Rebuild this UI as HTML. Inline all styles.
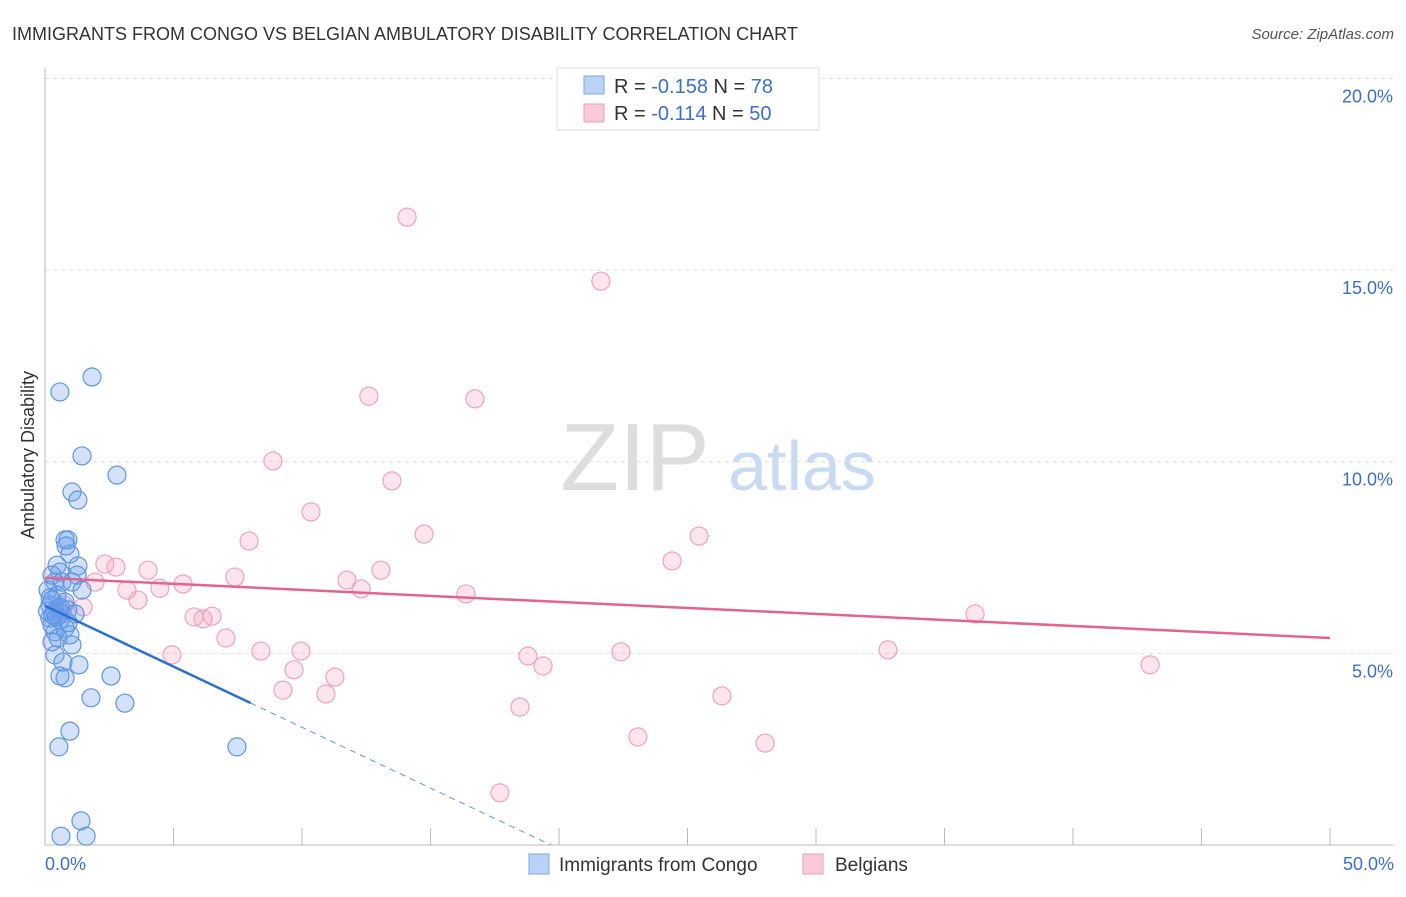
<!DOCTYPE html>
<html><head><meta charset="utf-8"><style>
body{margin:0;background:#fff;font-family:"Liberation Sans",sans-serif}
svg text{font-family:"Liberation Sans",sans-serif}
</style></head><body>
<svg width="1406" height="892" xmlns="http://www.w3.org/2000/svg">
<text x="12" y="40" font-size="18" fill="#333">IMMIGRANTS FROM CONGO VS BELGIAN AMBULATORY DISABILITY CORRELATION CHART</text>
<text x="1394" y="39" font-size="15" fill="#555" font-style="italic" text-anchor="end">Source: ZipAtlas.com</text>
<g>
<text x="635" y="490" font-size="96" font-family="Liberation Serif" fill="#ddd" text-anchor="middle">ZIP</text>
<text x="802" y="490" font-size="70" fill="#c9daf3" text-anchor="middle">atlas</text>
</g>
<g id="grid"></g>
<g id="axes"></g>
<g id="marks"></g>
<text transform="translate(34,455) rotate(-90)" font-size="18" fill="#333" text-anchor="middle">Ambulatory Disability</text>
<g>
<rect x="557" y="68" width="262" height="62" fill="#fff" stroke="#ddd"/>
<rect x="584" y="76" width="20" height="18" fill="#b9d2f5" stroke="#7aa6e6"/>
<rect x="584" y="104" width="20" height="18" fill="#fbcad8" stroke="#ee9fb8"/>
<text x="614" y="93" font-size="20" fill="#333">R = <tspan fill="#3a6fd0">-0.158</tspan>   N = <tspan fill="#3a6fd0"> 78</tspan></text>
<text x="614" y="120" font-size="20" fill="#333">R =  <tspan fill="#3a6fd0">-0.114</tspan>   N = <tspan fill="#3a6fd0">50</tspan></text>
</g>
<g>
<rect x="529" y="854" width="20" height="20" fill="#b9d2f5" stroke="#7aa6e6"/>
<text x="559" y="871" font-size="19" fill="#333">Immigrants from Congo</text>
<rect x="803" y="854" width="20" height="20" fill="#fbcad8" stroke="#ee9fb8"/>
<text x="835" y="871" font-size="19" fill="#333">Belgians</text>
</g>
</svg>
<script>
const yTicks=[5,10,15,20];
const yTickLabels=["5.0%","10.0%","15.0%","20.0%"];
const xTickLabels=["0.0%","50.0%"];
const blueX=[1.83,0.58,1.44,2.80,1.05,1.28,0.78,0.89,0.82,0.97,0.47,1.28,0.58,0.27,1.25,0.39,0.66,1.05,0.12,1.44,0.47,0.27,0.78,0.19,0.51,0.89,0.39,0.66,1.17,0.19,0.58,0.27,0.78,0.39,0.97,0.51,0.27,1.05,0.39,0.70,1.32,0.58,0.78,2.57,1.79,3.11,0.97,0.54,7.47,1.40,0.62,1.60,0.1,0.3,0.6,0.9,0.2,0.45];
const blueY=[12.21,11.82,10.15,9.65,9.21,9.0,7.96,7.96,7.8,7.59,7.3,7.28,7.12,7.04,7.04,6.86,6.86,6.86,6.65,6.65,6.52,6.39,6.34,6.26,6.18,6.13,6.08,6.03,6.03,5.92,5.87,5.74,5.66,5.56,5.48,5.4,5.3,5.22,4.96,4.77,4.7,4.41,4.36,4.41,3.84,3.7,2.97,2.56,2.56,0.63,0.23,0.23,6.1,6.0,6.2,5.8,6.45,5.95];
const pinkX=[14.09,21.63,12.6,16.73,8.87,13.5,10.35,14.75,25.45,7.94,24.4,2.33,2.76,4.01,13.07,7.39,11.75,1.95,5.37,3.19,4.47,12.3,3.62,16.38,1.48,36.19,5.8,6.5,6.15,7.04,4.94,8.4,9.96,32.8,22.41,18.79,19.38,43.0,9.69,11.28,9.26,10.93,26.34,18.48,23.07,28.02,17.7,0.58,0.74];
const pinkY=[16.38,14.71,11.71,11.64,10.02,9.5,8.69,8.11,8.06,7.93,7.41,7.33,7.25,7.17,7.17,6.99,6.91,6.86,6.81,6.65,6.7,6.68,6.39,6.55,6.21,6.03,5.95,5.97,5.9,5.4,4.96,5.06,5.06,5.09,5.04,4.93,4.67,4.7,4.57,4.38,4.04,3.94,3.89,3.6,2.82,2.66,1.36,6.08,6.26];
const blueTrend=[6.24,-0.317];
const pinkTrend=[6.97,-0.0314];
const sx=v=>45+v*25.7, sy=v=>845-v*38.33;
const NS="http://www.w3.org/2000/svg";
function mk(tag,attrs,parent){const e=document.createElementNS(NS,tag);for(const k in attrs)e.setAttribute(k,attrs[k]);document.getElementById(parent).appendChild(e);return e;}
yTicks.forEach((t,i)=>{
 const l=mk('line',{x1:45,x2:1393,y1:sy(t),y2:sy(t),stroke:'#ddd','stroke-dasharray':'4,4'},'grid');
 
 
 const tx=mk('text',{x:1393,y:sy(t)+24,'font-size':18,fill:'#3a6fd0','text-anchor':'end'},'axes');
 tx.textContent=yTickLabels[i];
 
 
});
let ax=mk('line',{x1:45,x2:45,y1:68,y2:845,stroke:'#bbb'},'axes');


ax=mk('line',{x1:45,x2:1393,y1:845,y2:845,stroke:'#bbb'},'axes');


for(let i=1;i<=10;i++){const t=mk('line',{x1:sx(i*5),x2:sx(i*5),y1:828,y2:845,stroke:'#bbb'},'axes');
 
 }
[[0,'start',45],[50,'end',1394]].forEach((d,i)=>{const t=mk('text',{x:d[2],y:870,'font-size':18,fill:'#3a6fd0','text-anchor':d[1]},'axes');t.textContent=xTickLabels[i];
 
 });
pinkX.forEach((x,i)=>{const c=mk('circle',{cx:sx(x),cy:sy(pinkY[i]),r:9,fill:'rgba(246,160,190,0.28)',stroke:'#eea3bc','stroke-width':1.2},'marks');
 
 });
blueX.forEach((x,i)=>{const c=mk('circle',{cx:sx(x),cy:sy(blueY[i]),r:9,fill:'rgba(110,160,235,0.3)',stroke:'#5f95e2','stroke-width':1.2},'marks');
 
 });
let tl=mk('line',{x1:sx(0),y1:sy(pinkTrend[0]),x2:sx(50),y2:sy(pinkTrend[0]+pinkTrend[1]*50),stroke:'#e4638f','stroke-width':2.5},'marks');


tl=mk('line',{x1:sx(0),y1:sy(blueTrend[0]),x2:sx(8),y2:sy(blueTrend[0]+blueTrend[1]*8),stroke:'#2b6fd6','stroke-width':2.5},'marks');


const xz=-blueTrend[0]/blueTrend[1];
tl=mk('line',{x1:sx(8),y1:sy(blueTrend[0]+blueTrend[1]*8),x2:sx(xz),y2:sy(0),stroke:'#5f95e2','stroke-width':1,'stroke-dasharray':'6,5'},'marks');


</script>
</body></html>
